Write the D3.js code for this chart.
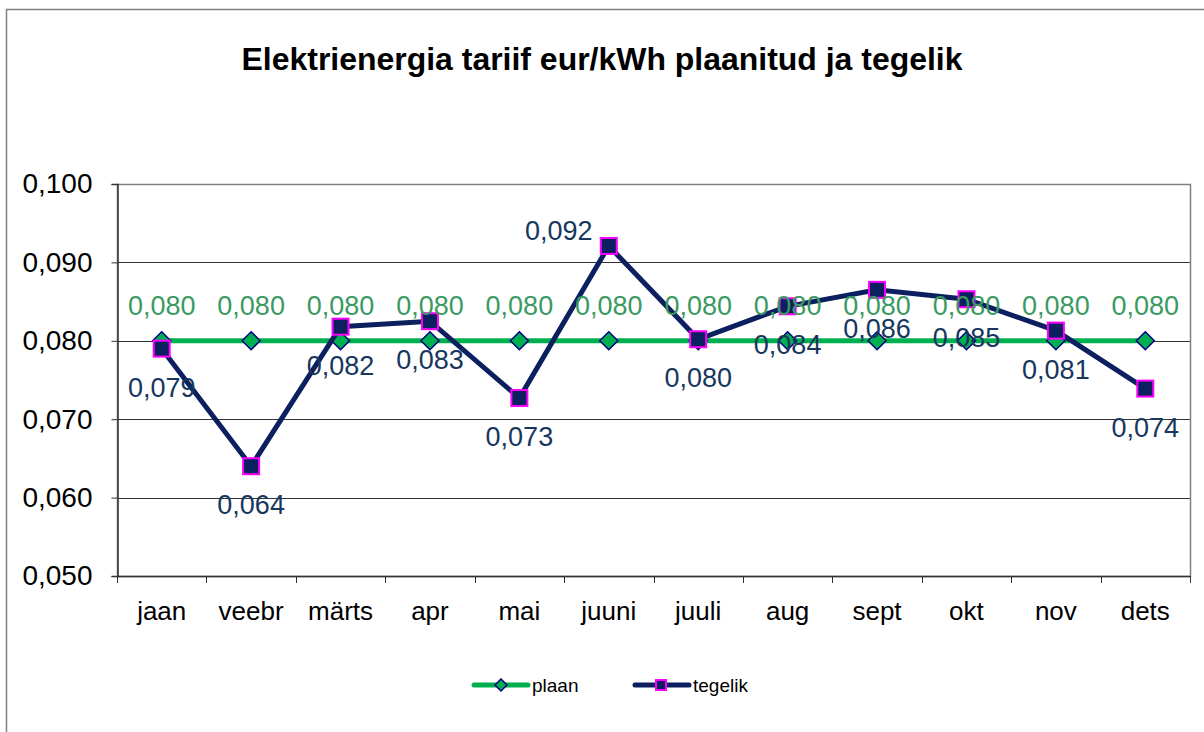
<!DOCTYPE html>
<html>
<head>
<meta charset="utf-8">
<script src="https://cdn.jsdelivr.net/npm/d3@7"></script>
<style>
  body { margin: 0; background: #fff; }
  text { font-family: "Liberation Sans", Arial, sans-serif; }
</style>
</head>
<body>
<div id="chart"></div>
<script>
// Data
const months = ['jaan', 'veebr', 'märts', 'apr', 'mai', 'juuni', 'juuli', 'aug', 'sept', 'okt', 'nov', 'dets'];
const plaan = [0.080, 0.080, 0.080, 0.080, 0.080, 0.080, 0.080, 0.080, 0.080, 0.080, 0.080, 0.080];
const tegelik = [0.079, 0.064, 0.0818, 0.0825, 0.0727, 0.0921, 0.0802, 0.0844, 0.0865, 0.0853, 0.0813, 0.0739];
const yTicks = [0.050, 0.060, 0.070, 0.080, 0.090, 0.100];

const width = 1204, height = 732;
const plot = { left: 117, top: 184, right: 1190, bottom: 576 };

const fmt = v => v.toFixed(3).replace('.', ',');

const svg = d3.select('#chart')
    .append('svg')
    .attr('width', width)
    .attr('height', height);

// outer chart frame (extends past the window on right and bottom)
svg.append('rect')
    .attr('x', 6.5).attr('y', 9.5)
    .attr('width', 1300).attr('height', 800)
    .attr('fill', 'none')
    .attr('stroke', '#7f7f7f')
    .attr('stroke-width', 1.5);

// Title
svg.append('text')
    .attr('x', 602).attr('y', 70)
    .attr('text-anchor', 'middle')
    .attr('font-size', 31)
    .attr('font-weight', 'bold')
    .attr('textLength', 721)
    .attr('lengthAdjust', 'spacingAndGlyphs')
    .attr('fill', '#000')
    .text('Elektrienergia tariif eur/kWh plaanitud ja tegelik');

// Scales
const x = d3.scaleBand()
    .domain(months)
    .range([plot.left, plot.right]);

const y = d3.scaleLinear()
    .domain([0.05, 0.1])
    .range([plot.bottom, plot.top]);

// Grid lines
svg.append('g')
    .selectAll('line')
    .data(yTicks.slice(1, -1))
    .enter()
    .append('line')
    .attr('x1', plot.left).attr('x2', plot.right)
    .attr('y1', d => Math.round(y(d)) + 0.5)
    .attr('y2', d => Math.round(y(d)) + 0.5)
    .attr('stroke', '#333')
    .attr('stroke-width', 1);

// Plot area border
svg.append('rect')
    .attr('x', plot.left + 0.5).attr('y', plot.top + 0.5)
    .attr('width', plot.right - plot.left)
    .attr('height', plot.bottom - plot.top)
    .attr('fill', 'none')
    .attr('stroke', '#808080')
    .attr('stroke-width', 1.5);

// Y axis
const yAxis = d3.axisLeft(y)
    .tickValues(yTicks)
    .tickSize(6)
    .tickPadding(19)
    .tickFormat(fmt);
const gY = svg.append('g')
    .attr('transform', `translate(${plot.left + 0.5},0)`)
    .call(yAxis);
gY.select('.domain').attr('stroke', '#333').attr('stroke-width', 1.5);
gY.selectAll('.tick line').attr('stroke', '#333');
gY.selectAll('.tick text')
    .attr('font-size', 28)
    .attr('fill', '#000')
    .style('font-family', '"Liberation Sans", Arial, sans-serif');

// X axis: ticks at category boundaries
const boundaries = months.map(m => x(m)).concat([plot.right]);
const gX = svg.append('g');
gX.append('line')
    .attr('x1', plot.left).attr('x2', plot.right)
    .attr('y1', plot.bottom + 0.5).attr('y2', plot.bottom + 0.5)
    .attr('stroke', '#333').attr('stroke-width', 1.5);
gX.selectAll('.xt')
    .data(boundaries)
    .enter()
    .append('line')
    .attr('x1', d => Math.round(d) + 0.5).attr('x2', d => Math.round(d) + 0.5)
    .attr('y1', plot.bottom).attr('y2', plot.bottom + 7)
    .attr('stroke', '#333');
gX.selectAll('.xl')
    .data(months)
    .enter()
    .append('text')
    .attr('x', d => x(d) + x.bandwidth() / 2)
    .attr('y', 620)
    .attr('text-anchor', 'middle')
    .attr('font-size', 26)
    .attr('fill', '#000')
    .text(d => d);

const cx = i => x(months[i]) + x.bandwidth() / 2;

// Lines
const line = d3.line()
    .x((d, i) => cx(i))
    .y(d => y(d));

svg.append('path')
    .datum(plaan)
    .attr('d', line)
    .attr('fill', 'none')
    .attr('stroke', '#00b050')
    .attr('stroke-width', 5);

// plaan markers
svg.append('g')
    .selectAll('path')
    .data(plaan)
    .enter()
    .append('path')
    .attr('d', 'M0,-9L9,0L0,9L-9,0Z')
    .attr('transform', (d, i) => `translate(${cx(i)},${y(d)})`)
    .attr('fill', '#00b050')
    .attr('stroke', '#000080')
    .attr('stroke-width', 1.5);

svg.append('path')
    .datum(tegelik)
    .attr('d', line)
    .attr('fill', 'none')
    .attr('stroke', '#0c1f5e')
    .attr('stroke-width', 5);

// tegelik markers
svg.append('g')
    .selectAll('rect')
    .data(tegelik)
    .enter()
    .append('rect')
    .attr('x', (d, i) => cx(i) - 8)
    .attr('y', d => y(d) - 8)
    .attr('width', 16)
    .attr('height', 16)
    .attr('fill', '#0c1f5e')
    .attr('stroke', '#ff00ff')
    .attr('stroke-width', 2);

// Data labels
svg.append('g')
    .selectAll('text')
    .data(plaan)
    .enter()
    .append('text')
    .attr('x', (d, i) => cx(i))
    .attr('y', d => y(d) - 26)
    .attr('text-anchor', 'middle')
    .attr('font-size', 27)
    .attr('fill', '#3a9a62')
    .text(fmt);

svg.append('g')
    .selectAll('text')
    .data(tegelik)
    .enter()
    .append('text')
    .attr('x', (d, i) => i === 5 ? cx(i) - 50 : cx(i))
    .attr('y', (d, i) => i === 5 ? y(d) - 6 : y(d) + 48)
    .attr('text-anchor', 'middle')
    .attr('font-size', 27)
    .attr('fill', '#17375e')
    .text(fmt);

// Legend
const legend = svg.append('g');
legend.append('line')
    .attr('x1', 474).attr('x2', 528).attr('y1', 685).attr('y2', 685)
    .attr('stroke', '#00b050').attr('stroke-width', 5).attr('stroke-linecap', 'round');
legend.append('path')
    .attr('d', 'M0,-6L6,0L0,6L-6,0Z')
    .attr('transform', 'translate(501,685)')
    .attr('fill', '#00b050').attr('stroke', '#000080').attr('stroke-width', 1.5);
legend.append('text')
    .attr('x', 532).attr('y', 692)
    .attr('font-size', 19).attr('fill', '#000')
    .text('plaan');
legend.append('line')
    .attr('x1', 635).attr('x2', 689).attr('y1', 685).attr('y2', 685)
    .attr('stroke', '#0c1f5e').attr('stroke-width', 5).attr('stroke-linecap', 'round');
legend.append('rect')
    .attr('x', 656).attr('y', 680).attr('width', 10).attr('height', 10)
    .attr('fill', '#0c1f5e').attr('stroke', '#ff00ff').attr('stroke-width', 2);
legend.append('text')
    .attr('x', 693).attr('y', 692)
    .attr('font-size', 19).attr('fill', '#000')
    .text('tegelik');
</script>
</body>
</html>
